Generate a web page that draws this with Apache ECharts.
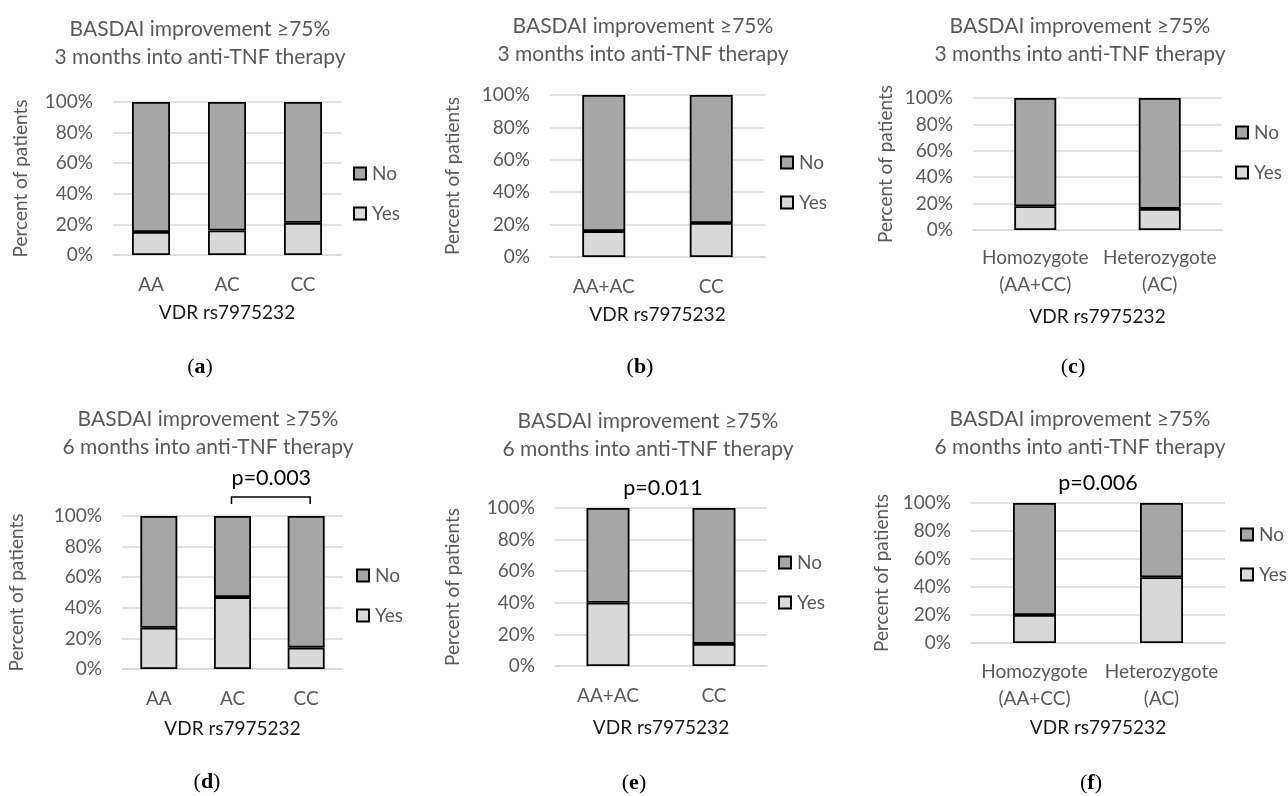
<!DOCTYPE html>
<html>
<head>
<meta charset="utf-8">
<script src="https://cdn.jsdelivr.net/npm/echarts@6/dist/echarts.min.js"></script>
<style>
html,body{margin:0;padding:0;background:#fff;}
#chart{width:1288px;height:796px;}
</style>
</head>
<body>
<div id="chart"></div>
<script>
// ---- data ----
const titleLine1 = 'BASDAI improvement ≥75%';
const titleLine2 = ['3 months into anti-TNF therapy', '3 months into anti-TNF therapy', '3 months into anti-TNF therapy',
                    '6 months into anti-TNF therapy', '6 months into anti-TNF therapy', '6 months into anti-TNF therapy'];
const catsA = ['AA', 'AC', 'CC'];
const catsB = ['AA+AC', 'CC'];
const catsC = ['Homozygote\n(AA+CC)', 'Heterozygote\n(AC)'];
const panelCats = [catsA, catsB, catsC, catsA, catsB, catsC];
// "Yes" share (%) per panel; "No" is the remainder shown stacked
const yesA = [15, 16, 21];
const yesB = [16, 21];
const yesC = [18, 16];
const yesD = [27, 47, 14];
const yesE = [40, 14];
const yesF = [20, 47];
const noA = [85, 84, 79];
const noB = [84, 79];
const noC = [82, 84];
const noD = [73, 53, 86];
const noE = [60, 86];
const noF = [80, 53];
const panelYes = [yesA, yesB, yesC, yesD, yesE, yesF];
const panelNo = [noA, noB, noC, noD, noE, noF];
const yTicks = [0, 20, 40, 60, 80, 100];
const pValues = [null, null, null, 'p=0.003', 'p=0.011', 'p=0.006'];
const captions = ['a', 'b', 'c', 'd', 'e', 'f'];
const xAxisName = 'VDR rs7975232';
const yAxisName = 'Percent of patients';

// ---- layout (pixels) ----
const L = [
  {grid:{left:113, top:102, width:228, height:153}, bw:38, tx:200, ty:15, lg:{left:353, top:164}, yn:83, xn:48, xm:16, cap:[200,367]},
  {grid:{left:550, top:95,  width:215, height:162}, bw:43, tx:643, ty:12, lg:{left:780, top:153}, yn:88, xn:48, xm:16, cap:[640,367]},
  {grid:{left:973, top:98,  width:249, height:132}, bw:42, tx:1080, ty:12, lg:{left:1235, top:123}, yn:78, xn:77, xm:14, cap:[1073,367]},
  {grid:{left:122, top:516, width:221, height:153}, bw:37, tx:208, ty:405, lg:{left:356, top:566}, yn:96, xn:50, xm:16, cap:[207,782]},
  {grid:{left:555, top:508, width:212, height:158}, bw:43, tx:648, ty:407, lg:{left:778, top:553}, yn:93, xn:52, xm:16, cap:[634,783]},
  {grid:{left:971, top:503, width:254, height:140}, bw:43, tx:1080, ty:405, lg:{left:1240, top:525}, yn:80, xn:75, xm:15, cap:[1091,783]}
];

const GRAY = '#595959';
const FONT = 'Lato, "Open Sans", sans-serif';

const option = {
  animation: false,
  backgroundColor: '#fff',
  title: [], grid: [], xAxis: [], yAxis: [], series: [], legend: [], graphic: []
};

for (let i = 0; i < 6; i++) {
  const l = L[i];
  option.title.push({
    text: titleLine1 + '\n' + titleLine2[i],
    left: l.tx, top: l.ty, padding: 0,
    textAlign: 'center', textVerticalAlign: 'top',
    textStyle: {fontFamily: FONT, fontSize: 21, fontWeight: 'normal', color: GRAY, lineHeight: 28}
  });
  option.grid.push(Object.assign({containLabel: false}, l.grid));
  option.xAxis.push({
    type: 'category', gridIndex: i, data: panelCats[i],
    name: xAxisName, nameLocation: 'middle', nameGap: l.xn,
    nameTextStyle: {fontFamily: FONT, fontSize: 19, color: '#1a1a1a'},
    axisLine: {show: true, lineStyle: {color: '#d9d9d9', width: 1.5}},
    axisTick: {show: false},
    axisLabel: {fontFamily: FONT, fontSize: 19, color: GRAY, margin: l.xm, lineHeight: 27, interval: 0}
  });
  option.yAxis.push({
    type: 'value', gridIndex: i, min: 0, max: 100, interval: 20,
    name: yAxisName, nameLocation: 'middle', nameGap: l.yn, nameRotate: 90,
    nameTextStyle: {fontFamily: FONT, fontSize: 19, color: GRAY},
    axisLine: {show: false}, axisTick: {show: false},
    splitLine: {lineStyle: {color: '#d9d9d9', width: 1.5}},
    axisLabel: {fontFamily: FONT, fontSize: 19, color: GRAY, margin: 20, formatter: '{value}%'}
  });
  option.series.push({
    name: 'Yes', type: 'bar', stack: 's' + i, xAxisIndex: i, yAxisIndex: i,
    data: panelYes[i], barWidth: l.bw,
    itemStyle: {color: '#d9d9d9', borderColor: '#000', borderWidth: 1.8}
  });
  option.series.push({
    name: 'No', type: 'bar', stack: 's' + i, xAxisIndex: i, yAxisIndex: i,
    data: panelNo[i], barWidth: l.bw,
    itemStyle: {color: '#a6a6a6', borderColor: '#000', borderWidth: 1.8}
  });
  option.legend.push({
    data: ['No', 'Yes'], orient: 'vertical', left: l.lg.left, top: l.lg.top,
    padding: 0, itemWidth: 12, itemHeight: 12, itemGap: 21, selectedMode: false,
    icon: 'rect',
    textStyle: {fontFamily: FONT, fontSize: 19, color: GRAY, padding: [0, 0, 0, 1]}
  });
  option.graphic.push({
    type: 'text', x: l.cap[0], y: l.cap[1],
    style: {
      text: '{p|(}{b|' + captions[i] + '}{p|)}',
      align: 'center', verticalAlign: 'middle',
      rich: {
        p: {fontFamily: '"Liberation Serif", serif', fontSize: 22, fill: '#000'},
        b: {fontFamily: '"Liberation Serif", serif', fontSize: 22, fontWeight: 'bold', fill: '#000'}
      }
    }
  });
}

const chart = echarts.init(document.getElementById('chart'), null, {renderer: 'canvas'});
chart.setOption(option);

// p-value annotations placed relative to the axes
const extra = [];
const pPos = [null, null, null,
  {panel: 3, from: 1, to: 2, bracket: true},
  {panel: 4, from: 0, to: 1, bracket: false},
  {panel: 5, from: 0, to: 1, bracket: false}];
for (let i = 3; i < 6; i++) {
  const pp = pPos[i];
  const a = chart.convertToPixel({xAxisIndex: i, yAxisIndex: i}, [pp.from, 100]);
  const b = chart.convertToPixel({xAxisIndex: i, yAxisIndex: i}, [pp.to, 100]);
  const cx = (a[0] + b[0]) / 2;
  if (pp.bracket) {
    const yb = a[1] - 19;
    extra.push({type: 'polyline', shape: {points: [[a[0] - 1, yb + 7], [a[0] - 1, yb], [b[0] + 4, yb], [b[0] + 4, yb + 7]]},
      style: {stroke: '#000', lineWidth: 1.5, fill: null}});
    extra.push({type: 'text', x: cx + 2, y: yb - 19,
      style: {text: pValues[i], align: 'center', verticalAlign: 'middle', fontFamily: FONT, fontSize: 21.5, fill: '#000'}});
  } else {
    extra.push({type: 'text', x: cx + (i === 4 ? 2 : 0), y: a[1] - 20,
      style: {text: pValues[i], align: 'center', verticalAlign: 'middle', fontFamily: FONT, fontSize: 21.5, fill: '#000'}});
  }
}
chart.setOption({graphic: option.graphic.concat(extra)});
</script>
</body>
</html>
